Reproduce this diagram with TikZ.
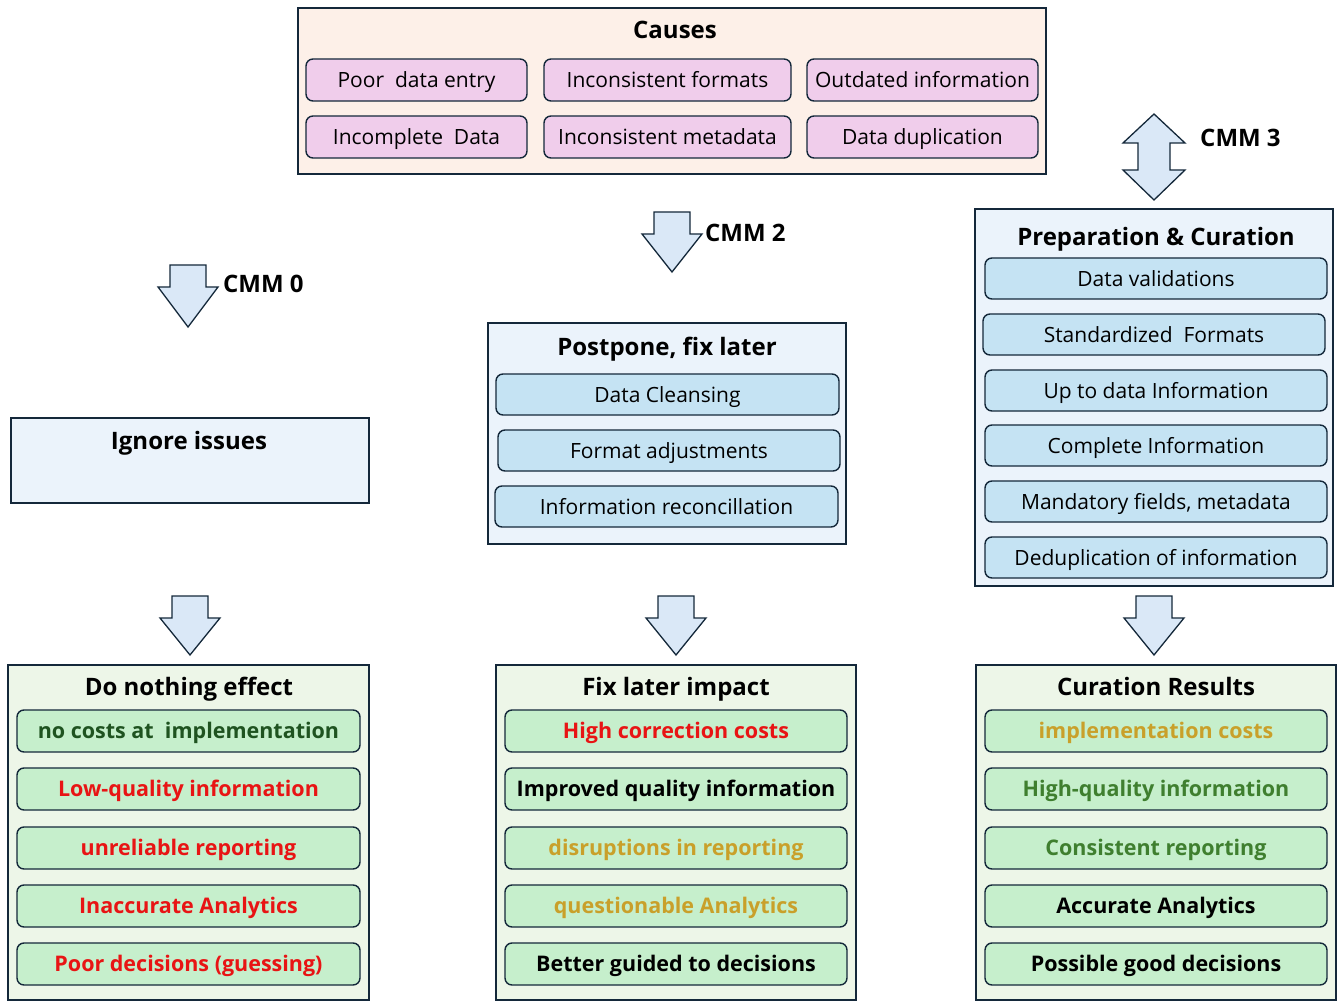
\documentclass[tikz,border=0pt]{standalone}
\usepackage{fontspec}
\setmainfont{Open Sans}
\definecolor{bord}{HTML}{14283A}
\definecolor{causefill}{HTML}{FDF0E8}
\definecolor{pinkfill}{HTML}{F0CDEB}
\definecolor{bluebox}{HTML}{EBF3FB}
\definecolor{blueitem}{HTML}{C5E3F3}
\definecolor{greenbox}{HTML}{EDF6E8}
\definecolor{greenitem}{HTML}{C6EFCC}
\definecolor{arrowfill}{HTML}{DAE8F7}
\definecolor{txtred}{HTML}{E81414}
\definecolor{txtgold}{HTML}{C9A02A}
\definecolor{txtmid}{HTML}{3F7F2F}
\definecolor{txtdark}{HTML}{1F5320}
\begin{document}
\begin{tikzpicture}[x=1pt,y=-1pt,
  outer/.style={draw=bord, line width=1.6pt, inner sep=0pt},
  item/.style={draw=bord, line width=1.4pt, rounded corners=7pt, inner sep=0pt,
    minimum height=42pt},
  citem/.style={item, fill=pinkfill, font=\fontsize{21}{23}\selectfont,
    text height=16.8pt, text depth=1.7pt},
  bitem/.style={item, fill=blueitem, font=\fontsize{21}{23}\selectfont,
    text height=16.8pt, text depth=1.7pt, minimum height=41pt},
  gitem/.style={item, fill=greenitem, font=\fontsize{21.5}{24}\selectfont\bfseries,
    text height=17.2pt, text depth=1.7pt, minimum height=42pt},
  ttl/.style={font=\fontsize{24}{26}\selectfont\bfseries, inner sep=0pt,
    text height=19.2pt, text depth=1.9pt},
  blockarrow/.style={draw=bord, line width=1.3pt, fill=arrowfill, line join=miter}
]
\useasboundingbox (0,0) rectangle (1344,1008);

% Causes
\node[outer, fill=causefill, minimum width=748pt, minimum height=166pt] (causes) at (672,91) {};
\node[ttl] (causesT) at (675,30) {Causes};
\node[citem, minimum width=221pt] (p1) at (416.5,80) {Poor\ \ data entry};
\node[citem, minimum width=247pt] (p2) at (667.5,80) {Inconsistent formats};
\node[citem, minimum width=231pt] (p3) at (922.5,80) {Outdated information};
\node[citem, minimum width=221pt] (p4) at (416.5,137) {Incomplete\ \ Data};
\node[citem, minimum width=247pt] (p5) at (667.5,137) {Inconsistent metadata};
\node[citem, minimum width=231pt] (p6) at (922.5,137) {Data duplication};

% Ignore issues
\node[outer, fill=bluebox, minimum width=358pt, minimum height=85pt] (ignore) at (190,460.5) {};
\node[ttl] (ignoreT) at (189,441) {Ignore issues};

% Postpone
\node[outer, fill=bluebox, minimum width=358pt, minimum height=221pt] (post) at (667,433.5) {};
\node[ttl] (postT) at (667,347) {Postpone, fix later};
\node[bitem, minimum width=343pt] (b1) at (667.5,394.5) {Data Cleansing};
\node[bitem, minimum width=342pt] (b2) at (669,450.5) {Format adjustments};
\node[bitem, minimum width=343pt] (b3) at (666.5,506.5) {Information reconcillation};

% Preparation
\node[outer, fill=bluebox, minimum width=358pt, minimum height=377pt] (prep) at (1154,397.5) {};
\node[ttl] (prepT) at (1156,237) {Preparation \& Curation};
\node[bitem, minimum width=342pt] (c1) at (1156,278.5) {Data validations};
\node[bitem, minimum width=342pt] (c2) at (1154,334.5) {Standardized\ \ Formats};
\node[bitem, minimum width=342pt] (c3) at (1156,390.5) {Up to data Information};
\node[bitem, minimum width=342pt] (c4) at (1156,445.5) {Complete Information};
\node[bitem, minimum width=342pt] (c5) at (1156,501.5) {Mandatory fields, metadata};
\node[bitem, minimum width=342pt] (c6) at (1156,557.5) {Deduplication of information};

% Do nothing effect
\node[outer, fill=greenbox, minimum width=361pt, minimum height=335pt] (dn) at (188.5,832.5) {};
\node[ttl] (dnT) at (189,687) {Do nothing effect};
\node[gitem, minimum width=343pt, text=txtdark] (d1) at (188.5,731) {no costs at\ \ implementation};
\node[gitem, minimum width=343pt, text=txtred] (d2) at (188.5,789) {Low-quality information};
\node[gitem, minimum width=343pt, text=txtred] (d3) at (188.5,848) {unreliable reporting};
\node[gitem, minimum width=343pt, text=txtred] (d4) at (188.5,906) {Inaccurate Analytics};
\node[gitem, minimum width=343pt, text=txtred] (d5) at (188.5,964) {Poor decisions (guessing)};

% Fix later impact
\node[outer, fill=greenbox, minimum width=360pt, minimum height=335pt] (fl) at (676,832.5) {};
\node[ttl] (flT) at (676,687) {Fix later impact};
\node[gitem, minimum width=342pt, text=txtred] (f1) at (676,731) {High correction costs};
\node[gitem, minimum width=342pt, text=black] (f2) at (676,789) {Improved quality information};
\node[gitem, minimum width=342pt, text=txtgold] (f3) at (676,848) {disruptions in reporting};
\node[gitem, minimum width=342pt, text=txtgold] (f4) at (676,906) {questionable Analytics};
\node[gitem, minimum width=342pt, text=black] (f5) at (676,964) {Better guided to decisions};

% Curation Results
\node[outer, fill=greenbox, minimum width=360pt, minimum height=335pt] (cr) at (1156,832.5) {};
\node[ttl] (crT) at (1156,687) {Curation Results};
\node[gitem, minimum width=342pt, text=txtgold] (r1) at (1156,731) {implementation costs};
\node[gitem, minimum width=342pt, text=txtmid] (r2) at (1156,789) {High-quality information};
\node[gitem, minimum width=342pt, text=txtmid] (r3) at (1156,848) {Consistent reporting};
\node[gitem, minimum width=342pt, text=black] (r4) at (1156,906) {Accurate Analytics};
\node[gitem, minimum width=342pt, text=black] (r5) at (1156,964) {Possible good decisions};

% block arrows: \dnarrow{cx}{top}{headstart}{tip}
\newcommand{\dnarrow}[4]{%
  \draw[blockarrow] (#1-18,#2) -- (#1+18,#2) -- (#1+18,#3) -- (#1+30,#3) -- (#1,#4)
    -- (#1-30,#3) -- (#1-18,#3) -- cycle;}
\dnarrow{188}{265}{287}{327}
\dnarrow{672}{212}{234}{272}
\dnarrow{190}{596}{618}{655}
\dnarrow{676}{596}{618}{655}
\dnarrow{1154}{596}{618}{655}
% double arrow CMM 3
\draw[blockarrow] (1154,114) -- (1185,143) -- (1170,143) -- (1170,170) -- (1185,170)
  -- (1154,200) -- (1123,170) -- (1138,170) -- (1138,143) -- (1123,143) -- cycle;

\node[ttl, anchor=west] (cmm0) at (223,284) {CMM 0};
\node[ttl, anchor=west] (cmm2) at (705,233) {CMM 2};
\node[ttl, anchor=west] (cmm3) at (1200,138) {CMM 3};
\end{tikzpicture}
\end{document}
